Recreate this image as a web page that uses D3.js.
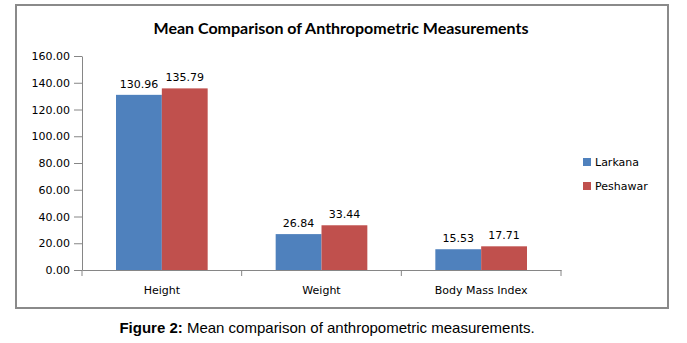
<!DOCTYPE html>
<html>
<head>
<meta charset="utf-8">
<script src="https://cdn.jsdelivr.net/npm/d3@7"></script>
<style>
  body { margin: 0; background: #fff; }
</style>
</head>
<body>
<script>
const categories = ['Height', 'Weight', 'Body Mass Index']
const seriesNames = ['Larkana', 'Peshawar']
const larkana = [130.96, 26.84, 15.53]
const peshawar = [135.79, 33.44, 17.71]
const yTicks = [0, 20, 40, 60, 80, 100, 120, 140, 160]
const colors = ['#4f81bd', '#c0504d']

const width = 687
const height = 343
const margin = { top: 56, left: 82, right: 126, bottom: 73 }

const svg = d3.select('body')
  .append('svg')
  .attr('width', width)
  .attr('height', height)

const chartWidth = width - margin.left - margin.right
const chartHeight = height - margin.top - margin.bottom

// outer frame
svg.append('rect')
  .attr('x', 16)
  .attr('y', 5)
  .attr('width', 652)
  .attr('height', 303)
  .attr('fill', 'none')
  .attr('stroke', '#8a8a8a')
  .attr('stroke-width', 2)

svg.append('text')
  .attr('x', 341)
  .attr('y', 34)
  .attr('text-anchor', 'middle')
  .style('font-family', 'Lato, sans-serif')
  .style('font-weight', 'bold')
  .style('font-size', '16px')
  .attr('fill', '#000')
  .text('Mean Comparison of Anthropometric Measurements')

const g = svg.append('g').attr('transform', `translate(${margin.left}, ${margin.top})`)

const x0 = d3.scaleBand().domain(categories).range([0, chartWidth]).paddingInner(0).paddingOuter(0)
const x1 = d3.scaleBand().domain(seriesNames).range([34, x0.bandwidth() - 34])
const y = d3.scaleLinear().domain([0, 160]).range([chartHeight, 0])

const table = categories.map((c, i) => ({ cat: c, values: [larkana[i], peshawar[i]] }))

// y axis
const yAxis = g.append('g')
  .call(d3.axisLeft(y).tickValues(yTicks).tickFormat(d3.format('.2f')).tickSize(8).tickSizeOuter(0))
yAxis.select('.domain').attr('stroke', '#868686')
yAxis.selectAll('.tick line').attr('stroke', '#868686')
yAxis.selectAll('.tick text')
  .attr('x', -12)
  .style('font-family', 'DejaVu Sans, sans-serif')
  .style('font-size', '11px')
  .attr('fill', '#000')

// bars
const groups = g.selectAll('.cat')
  .data(table)
  .enter()
  .append('g')
  .attr('transform', (d) => `translate(${x0(d.cat)}, 0)`)

groups.selectAll('rect')
  .data((d) => d.values.map((v, i) => ({ v, s: seriesNames[i], i })))
  .enter()
  .append('rect')
  .attr('x', (d) => x1(d.s))
  .attr('y', (d) => y(d.v))
  .attr('width', x1.bandwidth())
  .attr('height', (d) => chartHeight - y(d.v))
  .attr('fill', (d) => colors[d.i])

groups.selectAll('.lbl')
  .data((d) => d.values.map((v, i) => ({ v, s: seriesNames[i] })))
  .enter()
  .append('text')
  .attr('x', (d) => x1(d.s) + x1.bandwidth() / 2)
  .attr('y', (d) => y(d.v) - 7)
  .attr('text-anchor', 'middle')
  .style('font-family', 'DejaVu Sans, sans-serif')
  .style('font-size', '11px')
  .attr('fill', '#000')
  .text((d) => d3.format('.2f')(d.v))

// x axis
const xAxis = g.append('g')
  .attr('transform', `translate(0, ${chartHeight})`)
  .call(d3.axisBottom(x0).tickSize(0).tickPadding(16))
xAxis.select('.domain').attr('stroke', '#868686')
xAxis.selectAll('.tick text')
  .style('font-family', 'DejaVu Sans, sans-serif')
  .style('font-size', '11px')
  .attr('fill', '#000')

g.append('g')
  .selectAll('line')
  .data(categories.map((c) => x0(c)).concat([chartWidth]))
  .enter()
  .append('line')
  .attr('x1', (d) => d)
  .attr('x2', (d) => d)
  .attr('y1', chartHeight)
  .attr('y2', chartHeight + 6)
  .attr('stroke', '#868686')

// legend
const legend = svg.append('g')
  .selectAll('g')
  .data(seriesNames)
  .enter()
  .append('g')
  .attr('transform', (d, i) => `translate(583, ${158 + i * 24})`)

legend.append('rect')
  .attr('width', 8)
  .attr('height', 8)
  .attr('fill', (d, i) => colors[i])

legend.append('text')
  .attr('x', 12)
  .attr('y', 8)
  .style('font-family', 'DejaVu Sans, sans-serif')
  .style('font-size', '11px')
  .attr('fill', '#000')
  .text((d) => d)

// caption
const caption = svg.append('text')
  .attr('x', 327)
  .attr('y', 333)
  .attr('text-anchor', 'middle')
  .style('font-family', 'Liberation Sans, Arial, sans-serif')
  .style('font-size', '15px')
  .attr('fill', '#000')
caption.append('tspan').style('font-weight', 'bold').text('Figure 2:')
caption.append('tspan').text(' Mean comparison of anthropometric measurements.')
</script>
</body>
</html>
